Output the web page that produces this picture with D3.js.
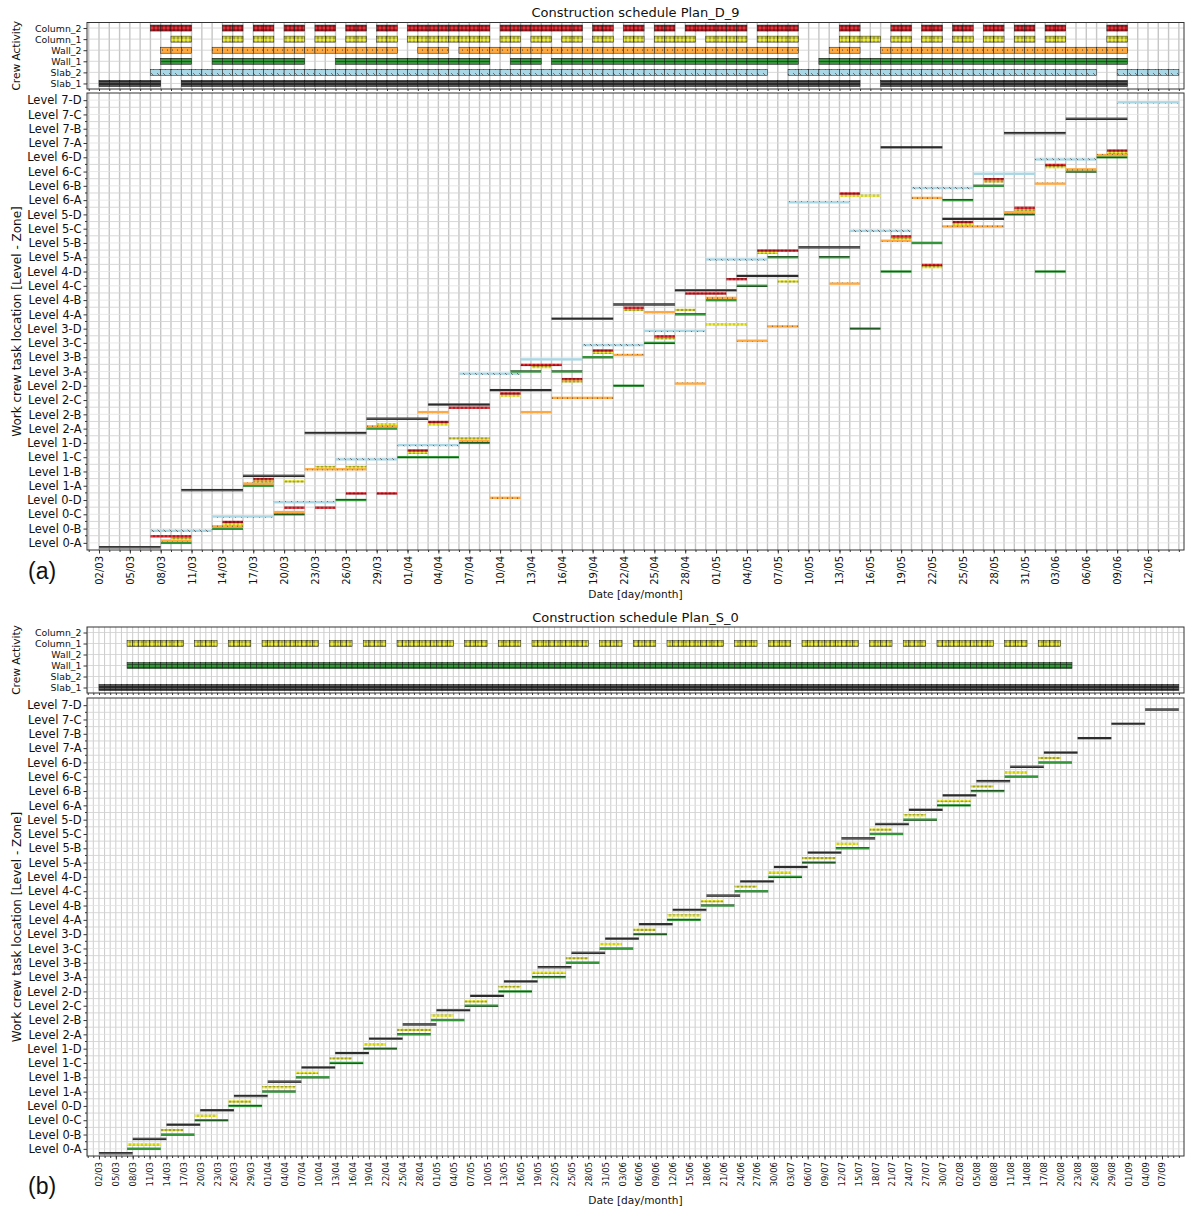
<!DOCTYPE html>
<html>
<head>
<meta charset="utf-8">
<script src="https://cdn.jsdelivr.net/npm/d3@7"></script>
<style>
  body { margin: 0; background: #fff; }
  text { font-family: "DejaVu Sans", sans-serif; fill: #111; }
</style>
</head>
<body>
<svg id="chart" width="1189" height="1209"></svg>
<script>
// ---- categories ----
var levelNames = ["Level 0-A", "Level 0-B", "Level 0-C", "Level 0-D",
    "Level 1-A", "Level 1-B", "Level 1-C", "Level 1-D",
    "Level 2-A", "Level 2-B", "Level 2-C", "Level 2-D",
    "Level 3-A", "Level 3-B", "Level 3-C", "Level 3-D",
    "Level 4-A", "Level 4-B", "Level 4-C", "Level 4-D",
    "Level 5-A", "Level 5-B", "Level 5-C", "Level 5-D",
    "Level 6-A", "Level 6-B", "Level 6-C", "Level 6-D",
    "Level 7-A", "Level 7-B", "Level 7-C", "Level 7-D"];
var crewNames = ["Column_2", "Column_1", "Wall_2", "Wall_1", "Slab_2", "Slab_1"];

// ---- tick labels ----
var ticksD9 = ["02/03", "05/03", "08/03", "11/03", "14/03", "17/03", "20/03", "23/03", "26/03", "29/03",
    "01/04", "04/04", "07/04", "10/04", "13/04", "16/04", "19/04", "22/04", "25/04", "28/04",
    "01/05", "04/05", "07/05", "10/05", "13/05", "16/05", "19/05", "22/05", "25/05", "28/05", "31/05",
    "03/06", "06/06", "09/06", "12/06"];
var ticksS0 = ["02/03", "05/03", "08/03", "11/03", "14/03", "17/03", "20/03", "23/03", "26/03", "29/03",
    "01/04", "04/04", "07/04", "10/04", "13/04", "16/04", "19/04", "22/04", "25/04", "28/04",
    "01/05", "04/05", "07/05", "10/05", "13/05", "16/05", "19/05", "22/05", "25/05", "28/05", "31/05",
    "03/06", "06/06", "09/06", "12/06", "15/06", "18/06", "21/06", "24/06", "27/06", "30/06",
    "03/07", "06/07", "09/07", "12/07", "15/07", "18/07", "21/07", "24/07", "27/07", "30/07",
    "02/08", "05/08", "08/08", "11/08", "14/08", "17/08", "20/08", "23/08", "26/08", "29/08",
    "01/09", "04/09", "07/09"];

// ---- Plan_D_9 tasks: [zone, start, end] ----
var d9Slab1 = [["0-A", "02/03", "08/03"], ["1-A", "10/03", "16/03"], ["1-B", "16/03", "22/03"], ["2-A", "22/03", "28/03"],
    ["2-B", "28/03", "03/04"], ["2-C", "03/04", "09/04"], ["2-D", "09/04", "15/04"], ["4-A", "15/04", "21/04"],
    ["4-B", "21/04", "27/04"], ["4-C", "27/04", "03/05"], ["4-D", "03/05", "09/05"], ["5-B", "09/05", "15/05"],
    ["7-A", "17/05", "23/05"], ["5-D", "23/05", "29/05"], ["7-B", "29/05", "04/06"], ["7-C", "04/06", "10/06"]];
var d9Slab2 = [["0-B", "07/03", "13/03"], ["0-C", "13/03", "19/03"], ["0-D", "19/03", "25/03"], ["1-C", "25/03", "31/03"],
    ["1-D", "31/03", "06/04"], ["3-A", "06/04", "12/04"], ["3-B", "12/04", "18/04"], ["3-C", "18/04", "24/04"],
    ["3-D", "24/04", "30/04"], ["5-A", "30/04", "06/05"], ["6-A", "08/05", "14/05"], ["5-C", "14/05", "20/05"],
    ["6-B", "20/05", "26/05"], ["6-C", "26/05", "01/06"], ["6-D", "01/06", "07/06"], ["7-D", "09/06", "15/06"]];
var d9Wall1 = [["0-A", "08/03", "11/03"], ["0-B", "13/03", "16/03"], ["1-A", "16/03", "19/03"], ["0-C", "19/03", "22/03"],
    ["0-D", "25/03", "28/03"], ["2-A", "28/03", "31/03"], ["1-C", "31/03", "06/04"], ["1-D", "06/04", "09/04"],
    ["3-A", "11/04", "14/04"], ["3-A", "15/04", "18/04"], ["3-B", "18/04", "21/04"], ["2-D", "21/04", "24/04"],
    ["3-C", "24/04", "27/04"], ["4-A", "27/04", "30/04"], ["4-B", "30/04", "03/05"], ["4-C", "03/05", "06/05"],
    ["5-A", "06/05", "09/05"], ["5-A", "11/05", "14/05"], ["3-D", "14/05", "17/05"], ["4-D", "17/05", "20/05"],
    ["5-B", "20/05", "23/05"], ["6-A", "23/05", "26/05"], ["6-B", "26/05", "29/05"], ["5-D", "29/05", "01/06"],
    ["4-D", "01/06", "04/06"], ["6-C", "04/06", "07/06"], ["6-D", "07/06", "10/06"]];
var d9Wall2 = [["0-A", "08/03", "11/03"], ["0-B", "13/03", "16/03"], ["1-A", "16/03", "19/03"], ["0-C", "19/03", "22/03"],
    ["1-B", "22/03", "28/03"], ["2-A", "28/03", "31/03"], ["2-B", "02/04", "05/04"], ["1-D", "06/04", "09/04"],
    ["0-D", "09/04", "12/04"], ["2-B", "12/04", "15/04"], ["2-C", "15/04", "21/04"], ["3-B", "21/04", "24/04"],
    ["4-A", "24/04", "27/04"], ["2-D", "27/04", "30/04"], ["4-B", "30/04", "03/05"], ["3-C", "03/05", "06/05"],
    ["3-D", "06/05", "09/05"], ["4-C", "12/05", "15/05"], ["5-B", "17/05", "20/05"], ["6-A", "20/05", "23/05"],
    ["5-C", "23/05", "29/05"], ["5-D", "29/05", "01/06"], ["6-B", "01/06", "04/06"], ["6-C", "04/06", "07/06"],
    ["6-D", "07/06", "10/06"]];
var d9Column1 = [["0-A", "09/03", "11/03"], ["0-B", "14/03", "16/03"], ["1-A", "17/03", "19/03"], ["1-A", "20/03", "22/03"],
    ["1-B", "23/03", "25/03"], ["1-B", "26/03", "28/03"], ["2-A", "29/03", "31/03"], ["1-C", "01/04", "03/04"],
    ["2-A", "03/04", "05/04"], ["1-D", "05/04", "09/04"], ["2-C", "10/04", "12/04"], ["3-A", "13/04", "15/04"],
    ["2-D", "16/04", "18/04"], ["3-B", "19/04", "21/04"], ["4-A", "22/04", "24/04"], ["3-C", "25/04", "27/04"],
    ["4-A", "27/04", "29/04"], ["3-D", "30/04", "04/05"], ["5-A", "05/05", "07/05"], ["4-C", "07/05", "09/05"],
    ["6-A", "13/05", "17/05"], ["5-B", "18/05", "20/05"], ["4-D", "21/05", "23/05"], ["5-C", "24/05", "26/05"],
    ["6-B", "27/05", "29/05"], ["5-D", "30/05", "01/06"], ["6-C", "02/06", "04/06"], ["6-D", "08/06", "10/06"]];
var d9Column2 = [["0-A", "07/03", "11/03"], ["0-B", "14/03", "16/03"], ["1-A", "17/03", "19/03"], ["0-C", "20/03", "22/03"],
    ["0-C", "23/03", "25/03"], ["0-D", "26/03", "28/03"], ["0-D", "29/03", "31/03"], ["1-C", "01/04", "03/04"],
    ["2-A", "03/04", "05/04"], ["2-B", "05/04", "09/04"], ["2-C", "10/04", "12/04"], ["3-A", "12/04", "16/04"],
    ["2-D", "16/04", "18/04"], ["3-B", "19/04", "21/04"], ["4-A", "22/04", "24/04"], ["3-C", "25/04", "27/04"],
    ["4-B", "28/04", "02/05"], ["4-C", "02/05", "04/05"], ["5-A", "05/05", "09/05"], ["6-A", "13/05", "15/05"],
    ["5-B", "18/05", "20/05"], ["4-D", "21/05", "23/05"], ["5-C", "24/05", "26/05"], ["6-B", "27/05", "29/05"],
    ["5-D", "30/05", "01/06"], ["6-C", "02/06", "04/06"], ["6-D", "08/06", "10/06"]];

// ---- Plan_S_0 tasks ----
var s0Slab1 = [["0-A", "02/03", "08/03"], ["0-B", "08/03", "14/03"], ["0-C", "14/03", "20/03"], ["0-D", "20/03", "26/03"],
    ["1-A", "26/03", "01/04"], ["1-B", "01/04", "07/04"], ["1-C", "07/04", "13/04"], ["1-D", "13/04", "19/04"],
    ["2-A", "19/04", "25/04"], ["2-B", "25/04", "01/05"], ["2-C", "01/05", "07/05"], ["2-D", "07/05", "13/05"],
    ["3-A", "13/05", "19/05"], ["3-B", "19/05", "25/05"], ["3-C", "25/05", "31/05"], ["3-D", "31/05", "06/06"],
    ["4-A", "06/06", "12/06"], ["4-B", "12/06", "18/06"], ["4-C", "18/06", "24/06"], ["4-D", "24/06", "30/06"],
    ["5-A", "30/06", "06/07"], ["5-B", "06/07", "12/07"], ["5-C", "12/07", "18/07"], ["5-D", "18/07", "24/07"],
    ["6-A", "24/07", "30/07"], ["6-B", "30/07", "05/08"], ["6-C", "05/08", "11/08"], ["6-D", "11/08", "17/08"],
    ["7-A", "17/08", "23/08"], ["7-B", "23/08", "29/08"], ["7-C", "29/08", "04/09"], ["7-D", "04/09", "10/09"]];
var s0Wall1 = [["0-A", "07/03", "13/03"], ["0-B", "13/03", "19/03"], ["0-C", "19/03", "25/03"], ["0-D", "25/03", "31/03"],
    ["1-A", "31/03", "06/04"], ["1-B", "06/04", "12/04"], ["1-C", "12/04", "18/04"], ["1-D", "18/04", "24/04"],
    ["2-A", "24/04", "30/04"], ["2-B", "30/04", "06/05"], ["2-C", "06/05", "12/05"], ["2-D", "12/05", "18/05"],
    ["3-A", "18/05", "24/05"], ["3-B", "24/05", "30/05"], ["3-C", "30/05", "05/06"], ["3-D", "05/06", "11/06"],
    ["4-A", "11/06", "17/06"], ["4-B", "17/06", "23/06"], ["4-C", "23/06", "29/06"], ["4-D", "29/06", "05/07"],
    ["5-A", "05/07", "11/07"], ["5-B", "11/07", "17/07"], ["5-C", "17/07", "23/07"], ["5-D", "23/07", "29/07"],
    ["6-A", "29/07", "04/08"], ["6-B", "04/08", "10/08"], ["6-C", "10/08", "16/08"], ["6-D", "16/08", "22/08"]];
var s0Column1 = [["0-A", "07/03", "13/03"], ["0-B", "13/03", "17/03"], ["0-C", "19/03", "23/03"], ["0-D", "25/03", "29/03"],
    ["1-A", "31/03", "06/04"], ["1-B", "06/04", "10/04"], ["1-C", "12/04", "16/04"], ["1-D", "18/04", "22/04"],
    ["2-A", "24/04", "30/04"], ["2-B", "30/04", "04/05"], ["2-C", "06/05", "10/05"], ["2-D", "12/05", "16/05"],
    ["3-A", "18/05", "24/05"], ["3-B", "24/05", "28/05"], ["3-C", "30/05", "03/06"], ["3-D", "05/06", "09/06"],
    ["4-A", "11/06", "17/06"], ["4-B", "17/06", "21/06"], ["4-C", "23/06", "27/06"], ["4-D", "29/06", "03/07"],
    ["5-A", "05/07", "11/07"], ["5-B", "11/07", "15/07"], ["5-C", "17/07", "21/07"], ["5-D", "23/07", "27/07"],
    ["6-A", "29/07", "04/08"], ["6-B", "04/08", "08/08"], ["6-C", "10/08", "14/08"], ["6-D", "16/08", "20/08"]];

// ---- styles ----
var crewColor = {Column_2: "#e8303a", Column_1: "#eeee3a", Wall_2: "#ffa93f", Wall_1: "#33943a", Slab_2: "#a9d7e6", Slab_1: "#2b2b2b"};
var levelOffset = {Column_2: -6.6, Column_1: -4.4, Wall_2: -2.2, Wall_1: 0, Slab_2: 2.2, Slab_1: 4.4};
var left = 87, right = 1184;

var parseDate = d3.timeParse("%d/%m/%Y");
function toDate(s) { return parseDate(s + "/2021"); }

var svg = d3.select("#chart");

// hatch patterns
var defs = svg.append("defs");
function addPattern(id, w, h, color, draw) {
    var p = defs.append("pattern").attr("id", id).attr("patternUnits", "userSpaceOnUse")
        .attr("width", w).attr("height", h);
    p.append("rect").attr("width", w).attr("height", h).attr("fill", color);
    draw(p);
}
addPattern("pat-Column_2", 4, 4, crewColor.Column_2, function (p) {
    p.append("path").attr("d", "M2,0V4M0,2H4").attr("stroke", "#400").attr("stroke-width", 0.7);
});
addPattern("pat-Column_1", 4, 4, crewColor.Column_1, function (p) {
    p.append("circle").attr("cx", 2).attr("cy", 2).attr("r", 1.1).attr("fill", "none").attr("stroke", "#333").attr("stroke-width", 0.5);
});
addPattern("pat-Wall_2", 5, 4, crewColor.Wall_2, function (p) {
    p.append("circle").attr("cx", 2.5).attr("cy", 2).attr("r", 0.6).attr("fill", "#333");
});
addPattern("pat-Wall_1", 4, 3, crewColor.Wall_1, function (p) {
    p.append("path").attr("d", "M0,1.5H4").attr("stroke", "#103010").attr("stroke-width", 0.6);
});
addPattern("pat-Slab_2", 6, 6, crewColor.Slab_2, function (p) {
    p.append("path").attr("d", "M1,1L4,4").attr("stroke", "#444").attr("stroke-width", 0.7);
});
addPattern("pat-Slab_1", 4, 3, crewColor.Slab_1, function (p) {
    p.append("path").attr("d", "M0,1.5H4").attr("stroke", "#777").attr("stroke-width", 0.6);
});

function drawPlan(p) {
    var x = d3.scaleTime()
        .domain([d3.timeHour.offset(toDate(p.first), -p.padBefore), d3.timeHour.offset(toDate(p.last), p.padAfter)])
        .range([left, right]);
    var yCrew = d3.scalePoint().domain(crewNames).range([p.crewTop, p.crewBottom]).padding(0.5);
    var yLevel = d3.scalePoint().domain(levelNames.slice().reverse()).range([p.levelTop, p.levelBottom]).padding(0.5);
    var days = d3.timeDay.range(x.domain()[0], x.domain()[1]);
    var step = yLevel.step();
    var g = svg.append("g");

    // title
    g.append("text").attr("x", (left + right) / 2).attr("y", p.titleY)
        .attr("text-anchor", "middle").style("font-size", "13px").text(p.title);

    // vertical grid (daily) in both panels
    [[p.crewTop, p.crewBottom], [p.levelTop, p.levelBottom]].forEach(function (r) {
        g.append("g").selectAll("line").data(days).enter().append("line")
            .attr("x1", function (d) { return x(d); }).attr("x2", function (d) { return x(d); })
            .attr("y1", r[0]).attr("y2", r[1])
            .attr("stroke", "#c6c6c6").attr("stroke-width", p.gridWidth);
    });
    // horizontal grid
    g.append("g").selectAll("line").data(crewNames).enter().append("line")
        .attr("x1", left).attr("x2", right)
        .attr("y1", function (d) { return yCrew(d); }).attr("y2", function (d) { return yCrew(d); })
        .attr("stroke", "#cfcfcf").attr("stroke-width", 0.8);
    g.append("g").selectAll("line").data(levelNames).enter().append("line")
        .attr("x1", left).attr("x2", right)
        .attr("y1", function (d) { return yLevel(d); }).attr("y2", function (d) { return yLevel(d); })
        .attr("stroke", "#e2e2e2").attr("stroke-width", 0.8);
    g.append("g").selectAll("line").data(levelNames.slice(1)).enter().append("line")
        .attr("x1", left).attr("x2", right)
        .attr("y1", function (d) { return yLevel(d) + step / 2; }).attr("y2", function (d) { return yLevel(d) + step / 2; })
        .attr("stroke", "#d4d4d4").attr("stroke-width", 0.9);

    // crew activity rows: one block per working day
    crewNames.forEach(function (c) {
        var segs = [];
        (p.tasks[c] || []).forEach(function (t) {
            d3.timeDay.range(toDate(t[1]), toDate(t[2])).forEach(function (d) { segs.push(d); });
        });
        g.append("g").selectAll("rect").data(segs).enter().append("rect")
            .attr("x", function (d) { return x(d); })
            .attr("width", function (d) { return x(d3.timeDay.offset(d, 1)) - x(d); })
            .attr("y", yCrew(c) - 3).attr("height", 6)
            .attr("fill", "url(#pat-" + c + ")")
            .attr("stroke", "#111").attr("stroke-width", 0.5);
    });

    // task bars per level / zone
    crewNames.slice().reverse().forEach(function (c) {
        var rows = p.tasks[c] || [];
        var off = levelOffset[c];
        g.append("g").selectAll("rect").data(rows).enter().append("rect")
            .attr("x", function (t) { return x(toDate(t[1])); })
            .attr("width", function (t) { return x(toDate(t[2])) - x(toDate(t[1])); })
            .attr("y", function (t) { return yLevel("Level " + t[0]) + off - 1.2; })
            .attr("height", 2.4)
            .attr("fill", "url(#pat-" + c + ")");
    });

    // frames
    g.append("rect").attr("x", left).attr("y", p.crewTop).attr("width", right - left).attr("height", p.crewBottom - p.crewTop)
        .attr("fill", "none").attr("stroke", "#333").attr("stroke-width", 1);
    g.append("rect").attr("x", left).attr("y", p.levelTop).attr("width", right - left).attr("height", p.levelBottom - p.levelTop)
        .attr("fill", "none").attr("stroke", "#333").attr("stroke-width", 1);

    // x axes
    var minorB = g.append("g").attr("transform", "translate(0," + p.levelBottom + ")")
        .call(d3.axisBottom(x).tickValues(days).tickSize(2).tickFormat(""));
    var minorC = g.append("g").attr("transform", "translate(0," + p.crewBottom + ")")
        .call(d3.axisBottom(x).tickValues(days).tickSize(2).tickFormat(""));
    var major = g.append("g").attr("transform", "translate(0," + p.levelBottom + ")")
        .call(d3.axisBottom(x).tickValues(p.ticks.map(toDate)).tickFormat(d3.timeFormat("%d/%m")).tickSize(3.5));
    [minorB, minorC, major].forEach(function (a) {
        a.select(".domain").remove();
        a.selectAll("line").attr("stroke", "#333");
    });
    major.selectAll("text")
        .attr("transform", "rotate(-90)").attr("text-anchor", "end")
        .attr("x", -6).attr("y", 0).attr("dy", "0.35em")
        .attr("font-family", "DejaVu Sans").style("font-size", p.tickFont + "px");

    // y axes
    var yc = g.append("g").attr("transform", "translate(" + left + ",0)")
        .call(d3.axisLeft(yCrew).tickSize(3.5).tickPadding(2));
    var yl = g.append("g").attr("transform", "translate(" + left + ",0)")
        .call(d3.axisLeft(yLevel).tickSize(3.5).tickPadding(2));
    [yc, yl].forEach(function (a) {
        a.select(".domain").remove();
        a.selectAll("line").attr("stroke", "#333");
        a.selectAll("text").attr("font-family", "DejaVu Sans");
    });
    yc.selectAll("text").style("font-size", "9.4px");
    yl.selectAll("text").style("font-size", "11.5px");
    g.append("g").selectAll("line").data(levelNames.slice(1)).enter().append("line")
        .attr("x1", left - 2).attr("x2", left)
        .attr("y1", function (d) { return yLevel(d) + step / 2; }).attr("y2", function (d) { return yLevel(d) + step / 2; })
        .attr("stroke", "#333");

    // axis titles
    g.append("text").attr("transform", "translate(20," + (p.crewTop + p.crewBottom) / 2 + ") rotate(-90)")
        .attr("text-anchor", "middle").style("font-size", "10.6px").text("Crew Activity");
    g.append("text").attr("transform", "translate(21," + (p.levelTop + p.levelBottom) / 2 + ") rotate(-90)")
        .attr("text-anchor", "middle").style("font-size", "12px").text("Work crew task location [Level - Zone]");
    g.append("text").attr("x", (left + right) / 2).attr("y", p.xTitleY)
        .attr("text-anchor", "middle").style("font-size", "10.6px").text("Date [day/month]");

    // panel letter
    g.append("text").attr("x", 28).attr("y", p.letterY)
        .style("font-family", "Liberation Sans, Arial, sans-serif").style("font-size", "23px").text(p.letter);
}

drawPlan({
    title: "Construction schedule Plan_D_9", letter: "(a)",
    tasks: {Column_2: d9Column2, Column_1: d9Column1, Wall_2: d9Wall2, Wall_1: d9Wall1, Slab_2: d9Slab2, Slab_1: d9Slab1},
    ticks: ticksD9, first: "02/03", last: "15/06", padBefore: 28, padAfter: 12,
    titleY: 17, crewTop: 22.5, crewBottom: 89, levelTop: 93, levelBottom: 550,
    xTitleY: 598, letterY: 579, tickFont: 10, gridWidth: 1.4
});
drawPlan({
    title: "Construction schedule Plan_S_0", letter: "(b)",
    tasks: {Column_1: s0Column1, Wall_1: s0Wall1, Slab_1: s0Slab1},
    ticks: ticksS0, first: "02/03", last: "10/09", padBefore: 51, padAfter: 22,
    titleY: 622, crewTop: 627, crewBottom: 693, levelTop: 698, levelBottom: 1156,
    xTitleY: 1204, letterY: 1194, tickFont: 8.5, gridWidth: 0.9
});
</script>
</body>
</html>
